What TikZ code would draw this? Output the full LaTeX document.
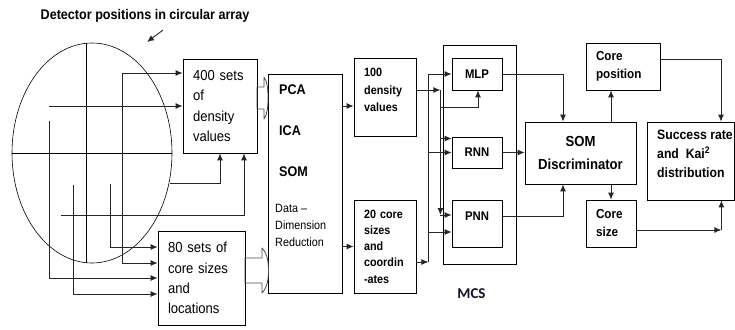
\documentclass[tikz,border=0pt]{standalone}
\usepackage{fontspec}
\setmainfont{Liberation Sans}[FakeStretch=0.9]
\newfontfamily\mcsfont{Carlito}
\definecolor{mcsblue}{RGB}{18,18,40}
\usetikzlibrary{arrows.meta}

\begin{document}
\begin{tikzpicture}[x=1pt, y=-1pt, >={Latex[length=7pt,width=6pt]},
    box/.style={draw, line width=0.8pt, inner sep=0pt, fill=white},
    net/.style={box, minimum width=50pt, font=\fontsize{12.6}{15}\selectfont\bfseries},
    wire/.style={line width=0.9pt, black!85},
    hollow/.style={draw=black!70, line width=0.8pt, line join=round}]
  \useasboundingbox (0,0) rectangle (735,329);

  % ── detector array (left) ─────────────────────────────────────────
  \node[font=\fontsize{14}{16}\selectfont\bfseries] (tit) at (145,16)
    {Detector positions in circular array};
  \coordinate (arrtip) at (147,42);
  \draw[wire,->] ([xshift=18pt,yshift=-4pt]tit.south) -- (arrtip);
  \draw[line width=0.6pt] (92,153) ellipse [x radius=80pt, y radius=110pt];
  \draw[line width=0.6pt] (86,43) -- (86,263);
  \draw[line width=0.6pt] (12,153) -- (172,153);

  \node[box, minimum width=74pt, minimum height=94pt, align=left, text width=54pt,
        font=\fontsize{14.5}{20.3}\selectfont] (dens) at (220,106)
        {400 sets\\of\\density\\values};
  \node[box, minimum width=87pt, minimum height=94pt, align=left, text width=67pt,
        font=\fontsize{14.5}{20.3}\selectfont] (core) at (201.5,278)
        {80 sets of\\core sizes\\and\\locations};

  \coordinate (d1a) at (122,73);
  \coordinate (d1b) at (122,263);
  \coordinate (d2) at (49,106);
  \coordinate (d3) at (49,121);
  \coordinate (d4) at (73,185);
  \coordinate (d5) at (110,184);
  \coordinate (d6) at (170,183);
  \coordinate (d7) at (61,215);
  \draw[wire,<->] ([yshift=33pt]dens.west) -- (d1a) -- (d1b) -- (d1b -| core.west);
  \draw[wire,->] (d2) -- (d2 -| dens.west);
  \draw[wire,->] (d3) |- (core.west);
  \draw[wire,->] (d4) |- ([yshift=-16pt]core.west);
  \draw[wire,->] (d5) |- ([yshift=31pt]core.west);
  \draw[wire,->] (d6) -| (dens.south);
  \draw[wire,->] (d7) -| ([xshift=24pt]dens.south);

  % ── dimension reduction (centre) ──────────────────────────────────
  \node[box, minimum width=74pt, minimum height=219pt] (red) at (305,183.5) {};
  \node[anchor=north west, inner sep=0pt, align=left,
        font=\fontsize{14}{41}\selectfont\bfseries] (redm) at (279,85) {PCA\\ICA\\SOM};
  \node[anchor=north west, inner sep=0pt, align=left,
        font=\fontsize{12}{17}\selectfont] (redt) at (275,204) {Data –\\Dimension\\Reduction};

  % hollow block arrows into the reduction box
  \draw[hollow] (257,87) -- (264,87) -- (264,77)
    .. controls (267.5,82) and (268,90) .. (268,98)
    .. controls (268,106) and (267.5,114) .. (264,119)
    -- (264,109) -- (257,109) -- cycle;
  \draw[hollow] (245,258) -- (262,258) -- (262,248)
    .. controls (267.5,254) and (268.5,262) .. (268.5,270.5)
    .. controls (268.5,279) and (267.5,287) .. (262,293)
    -- (262,283) -- (245,283) -- cycle;

  \node[box, minimum width=62pt, minimum height=78pt] (dval) at (385,97) {};
  \node[anchor=north west, inner sep=0pt, align=left,
        font=\fontsize{12}{17.7}\selectfont\bfseries] (dvalt) at (364,68) {100\\density\\values};
  \node[box, minimum width=62pt, minimum height=93pt, align=left, text width=42pt,
        font=\fontsize{12}{16.3}\selectfont\bfseries] (cval) at (385,246.5)
        {20 core\\sizes\\and\\coordin\\-ates};

  \coordinate (dvin) at ([yshift=-9pt]dval.west);
  \draw[wire,->] (red.east |- dvin) -- (dvin);
  \draw[wire,->] (red.east |- cval.west) -- (cval.west);

  % ── MCS networks ──────────────────────────────────────────────────
  \node[box, minimum width=73pt, minimum height=219pt] (mcs) at (479.5,154.5) {};
  \node[font=\mcsfont\fontsize{15}{18}\selectfont\bfseries, text=mcsblue] (mcsl)
    at (471.5,294) {MCS};
  \node[net, minimum height=32pt] (mlp) at (477,74) {MLP};
  \node[net, minimum height=31pt] (rnn) at (477,152.5) {RNN};
  \node[net, minimum height=47pt, text depth=15pt] (pnn) at (477,223.5) {PNN};

  \coordinate (pnnhi) at ([yshift=8.5pt]pnn.west);
  \coordinate (pnnlo) at ([yshift=-8.5pt]pnn.west);
  \coordinate (rnnhi) at ([yshift=14pt]rnn.west);

  \draw[wire,->] ([yshift=-15.5pt]cval.east) -- ++(12,0) coordinate (cbus);
  \draw[wire] (cbus) -- (cbus |- mlp.west);
  \draw[wire,->] (cbus |- mlp.west) -- (mlp.west);
  \draw[wire,->] (cbus |- rnn.west) -- (rnn.west);
  \draw[wire,->] (cbus |- pnnlo) -- (pnnlo);

  \draw[wire,->] ([yshift=7pt]dval.east) -- ++(24,0) coordinate (dbus);
  \draw[wire,->] (dbus) -- (dbus |- pnnhi);
  \draw[wire,->] (dbus |- pnnhi) -- (pnnhi);
  \draw[wire,->] (dbus |- rnnhi) -- (rnnhi);
  \draw[wire,->] ([yshift=-17pt]dbus) -| ([xshift=1pt]mlp.south);

  % ── discriminator and results (right) ─────────────────────────────
  \node[box, minimum width=111pt, minimum height=62pt, align=center,
        font=\fontsize{14.6}{22.5}\selectfont\bfseries] (som) at (580.5,153)
        {SOM\\Discriminator};
  \node[box, minimum width=74pt, minimum height=47pt, align=left, text width=54pt,
        font=\fontsize{13}{18}\selectfont\bfseries] (cpos) at (623,66.5) {Core\\position};
  \node[box, minimum width=50pt, minimum height=47pt, align=left, text width=30pt,
        font=\fontsize{13}{18}\selectfont\bfseries] (csize) at (611,223.5) {Core\\size};
  \node[box, minimum width=87pt, minimum height=78pt] (succ) at (690.5,161) {};
  \node[anchor=north west, inner sep=0pt, align=left,
        font=\fontsize{13.6}{19}\selectfont\bfseries] (succt) at (657,130)
        {Success rate\\and~~Kai\textsuperscript{2}\\distribution};

  \draw[wire,->] (mlp.east) -| ([xshift=-17.5pt]som.north);
  \draw[wire,->] (rnn.east) -- (rnn.east -| som.west);
  \draw[wire,->] ([yshift=7.5pt]pnn.east) -| ([xshift=-17.5pt]som.south);
  \draw[wire,->] (csize.north |- som.north) -- (csize.north |- cpos.south);
  \draw[wire,->] (csize.north |- som.south) -- (csize.north);
  \draw[wire,->] ([yshift=7.5pt]cpos.east) -| ([xshift=30.5pt]succ.north);
  \draw[wire,->] ([yshift=-6.5pt]csize.east) -- ++(85,0) coordinate (sjoin);
  \draw[wire,->] (sjoin) -- (sjoin |- succ.south);
\end{tikzpicture}
\end{document}
